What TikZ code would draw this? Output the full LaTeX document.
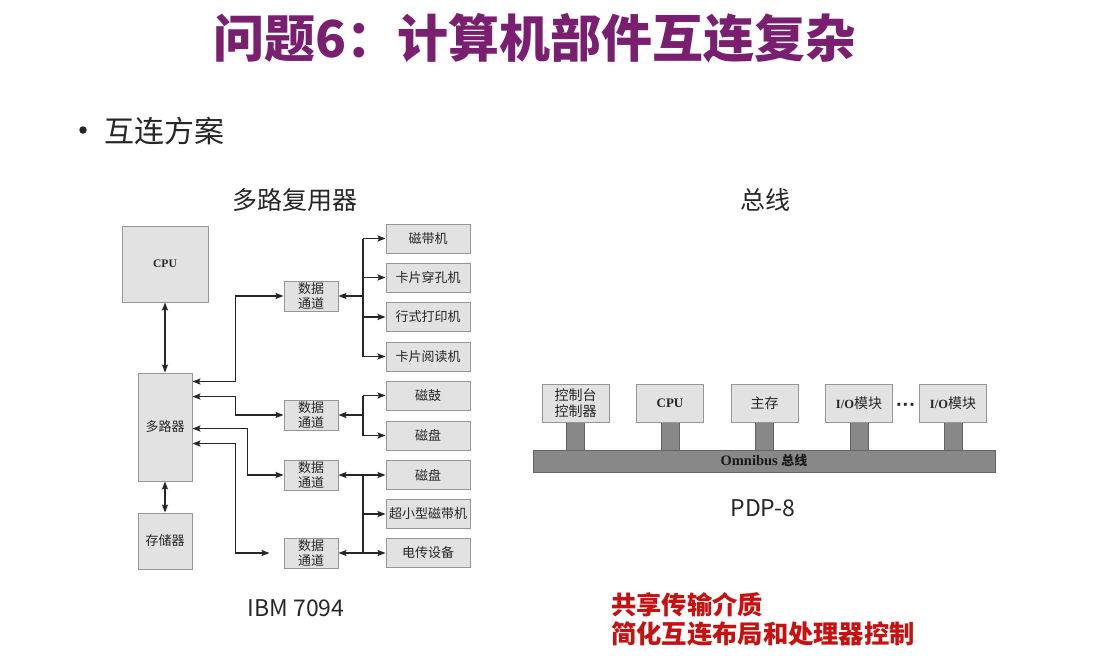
\documentclass[tikz,border=0pt]{standalone}
\usepackage{fontspec}
\setmainfont{Noto Sans CJK SC}
\newfontfamily\cjk{Noto Sans CJK SC}
\newfontfamily\tnr{Liberation Serif}
\newfontfamily\lsans{Liberation Sans}
\usetikzlibrary{arrows.meta,calc}
\definecolor{ttl}{RGB}{122,31,112}
\definecolor{redt}{RGB}{200,16,16}
\definecolor{boxfill}{RGB}{226,226,226}
\definecolor{boxline}{RGB}{150,150,150}
\definecolor{busfill}{RGB}{136,136,136}
\definecolor{busline}{RGB}{100,100,100}
\begin{document}
\begin{tikzpicture}[x=1pt,y=-1pt,
  box/.style={draw=boxline, fill=boxfill, line width=0.9pt, inner sep=0pt, align=center, text=black!85, font=\fontsize{13}{15}\selectfont},
  dcbox/.style={box, minimum width=54, minimum height=30},
  devbox/.style={box, minimum width=84, minimum height=29},
  pbox/.style={box, minimum width=67, minimum height=38, font=\fontsize{14}{16}\selectfont},
  tip/.tip={Stealth[length=8pt,width=6pt,inset=1.5pt]},
  ln/.style={line width=1.8pt, black!85},
  arr/.style={ln, -tip},
  darr/.style={ln, tip-tip},
  lbl/.style={inner sep=0pt, text=black!85},
]
\fill[white] (0,0) rectangle (1106,656);
\useasboundingbox (0,0) rectangle (1106,656);

% title and headings
\node[lbl, text=ttl, font=\fontsize{51}{56}\selectfont\bfseries] (title) at (535,38) {问题6：计算机部件互连复杂};
\node[circle, fill=black!85, inner sep=0pt, minimum size=7.5pt] (bullet) at (83,130) {};
\node[lbl, anchor=west, font=\fontsize{30}{34}\selectfont] (scheme) at (104,131) {互连方案};
\node[lbl, font=\fontsize{25}{28}\selectfont] (muxhead) at (295,200) {多路复用器};
\node[lbl, font=\fontsize{25}{28}\selectfont] (bushead) at (765,200) {总线};
\node[lbl, font=\fontsize{23}{26}\selectfont] (ibm) at (296,608) {IBM 7094};
\node[lbl, font=\fontsize{23}{26}\selectfont] (pdp) at (763,508) {PDP-8};
\node[lbl, anchor=west, text=redt, font=\fontsize{25.3}{28}\selectfont\bfseries] (red1) at (611,605) {共享传输介质};
\node[lbl, anchor=west, text=redt, font=\fontsize{25.3}{28}\selectfont\bfseries] (red2) at (611,634) {简化互连布局和处理器控制};

% ---------------- IBM 7094 ----------------
\node[box, minimum width=86, minimum height=76] (cpu) at (165,264) {\tnr\bfseries\fontsize{11.5}{13}\selectfont CPU};
\node[box, minimum width=54, minimum height=108] (mux) at (165,427) {多路器};
\node[box, minimum width=54, minimum height=56] (mem) at (165,541) {存储器};

\node[dcbox] (dc1) at (311,296) {数据\\通道};
\node[dcbox] (dc2) at (311,415) {数据\\通道};
\node[dcbox] (dc3) at (311,475) {数据\\通道};
\node[dcbox] (dc4) at (311,553) {数据\\通道};

\node[devbox] (d1) at (428,238.5) {磁带机};
\node[devbox] (d2) at (428,277.5) {卡片穿孔机};
\node[devbox] (d3) at (428,317) {行式打印机};
\node[devbox] (d4) at (428,356.5) {卡片阅读机};
\node[devbox] (d5) at (428,395.5) {磁鼓};
\node[devbox] (d6) at (428,435.5) {磁盘};
\node[devbox] (d7) at (428,475) {磁盘};
\node[devbox] (d8) at (428,514) {超小型磁带机};
\node[devbox] (d9) at (428,553) {电传设备};

\draw[darr] (cpu.south) -- (mux.north);
\draw[darr] (mux.south) -- (mem.north);

\draw[darr] ($(mux.north east)+(0,9)$) -- ++(43,0) |- (dc1.west);
\draw[darr] ($(mux.north east)+(0,24)$) -- ++(43,0) |- (dc2.west);
\draw[darr] ($(mux.north east)+(0,56)$) -- ++(55,0) |- (dc3.west);
\coordinate (l4end) at ($(dc4.west)+(-14,0)$);
\draw[darr] ($(mux.north east)+(0,71)$) -- ++(43,0) |- (l4end);

\coordinate (t) at (363,0);
% group 1
\draw[ln] (t |- d1.west) -- (t |- d4.west);
\draw[arr] (t |- dc1.east) -- (dc1.east);
\foreach \d in {d1,d2,d3,d4} \draw[arr] (t |- \d.west) -- (\d.west);
% group 2
\draw[ln] (t |- d5.west) -- (t |- d6.west);
\draw[arr] (t |- dc2.east) -- (dc2.east);
\foreach \d in {d5,d6} \draw[arr] (t |- \d.west) -- (\d.west);
% group 3
\draw[ln] (t |- d7.west) -- (t |- d9.west);
\draw[arr] (t |- dc3.east) -- (dc3.east);
\draw[arr] (t |- dc4.east) -- (dc4.east);
\foreach \d in {d7,d8,d9} \draw[arr] (t |- \d.west) -- (\d.west);

% ---------------- PDP-8 ----------------
\node[pbox] (p1) at (575.5,403) {控制台\\控制器};
\node[pbox] (p2) at (670,403) {\tnr\bfseries\fontsize{13}{15}\selectfont CPU};
\node[pbox] (p3) at (764.5,403) {主存};
\node[pbox] (p4) at (859,403) {{\tnr\bfseries\fontsize{12.5}{15}\selectfont I/O}模块};
\node[pbox] (p5) at (953,403) {{\tnr\bfseries\fontsize{12.5}{15}\selectfont I/O}模块};
\node[lbl, font=\lsans\fontsize{20}{20}\selectfont\bfseries] (dots) at (906,407) {···};

\node[draw=busline, fill=busfill, line width=0.9pt, minimum width=462, minimum height=22, inner sep=0pt, text=black!90] (bus) at (764,461) {\tnr\bfseries\fontsize{14.5}{15}\selectfont Omnibus {\cjk\fontsize{13}{15}\selectfont 总线}};
\foreach \p in {p1,p2,p3,p4,p5} {
  \fill[busfill] ($(\p.south)+(-9,0.5)$) rectangle ($(\p.south |- bus.north)+(9,0.6)$);
  \draw[busline, line width=0.9pt] ($(\p.south)+(-9,0.5)$) -- ($(\p.south |- bus.north)+(-9,0)$)
                                   ($(\p.south)+(9,0.5)$) -- ($(\p.south |- bus.north)+(9,0)$);
}
\end{tikzpicture}
\end{document}
